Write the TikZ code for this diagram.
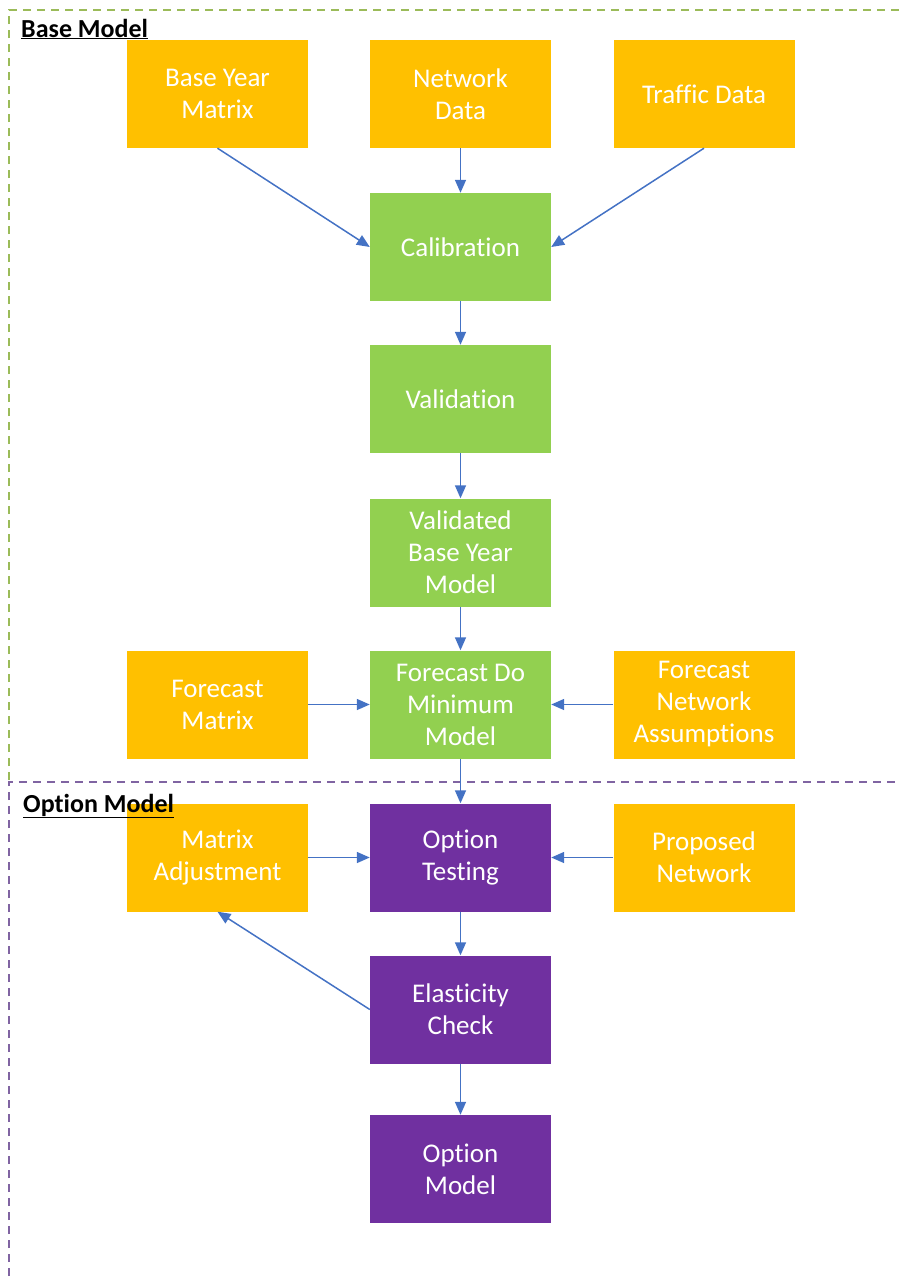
\documentclass[tikz,border=0pt]{standalone}
\usepackage{fontspec}
\setmainfont{Carlito}[Ligatures=NoCommon]
\usetikzlibrary{arrows.meta}
\definecolor{orng}{HTML}{FFC000}
\definecolor{grn}{HTML}{92D050}
\definecolor{purp}{HTML}{7030A0}
\definecolor{arrblue}{HTML}{4472C4}
\definecolor{gdash}{HTML}{9BBB59}
\definecolor{pdash}{HTML}{8064A2}
\begin{document}
\begin{tikzpicture}[x=1pt,y=-1pt,
  box/.style={minimum width=181pt,minimum height=108pt,inner sep=0pt,align=center,text=white,font=\fontsize{27}{32}\selectfont},
  ob/.style={box,fill=orng},
  gb/.style={box,fill=grn},
  pb/.style={box,fill=purp},
  arr/.style={draw=arrblue,line width=1.5pt,-{Triangle[length=13pt,width=11pt]}},
  heading/.style={anchor=base west,font=\bfseries\fontsize{26}{30}\selectfont,inner sep=0pt},
  frame/.style={line width=1.3pt,dash pattern=on 8pt off 6pt}]
\clip (0,0) rectangle (900,1278);
\draw[frame,draw=gdash] (9,780) -- (9,10) -- (905,10);
\draw[frame,draw=pdash] (9,1290) -- (9,782) -- (905,782);

\node[ob] (bym) at (217.5,94) {Base Year\\Matrix};
\node[ob] (nd) at (460.5,94) {Network\\Data};
\node[ob] (td) at (704,94) {Traffic Data};
\node[gb] (cal) at (460.5,247) {Calibration};
\node[gb] (val) at (460.5,399) {Validation};
\node[gb] (vbym) at (460.5,552.5) {Validated\\Base Year\\Model};
\node[ob] (fm) at (217.5,704.5) {Forecast\\Matrix};
\node[gb] (fdm) at (460.5,704.5) {Forecast Do\\Minimum\\Model};
\node[ob] (fna) at (704,704.5) {Forecast\\Network\\Assumptions};
\node[ob] (ma) at (217.5,857.5) {Matrix\\Adjustment};
\node[pb] (ot) at (460.5,857.5) {Option\\Testing};
\node[ob] (pn) at (704,857.5) {Proposed\\Network};
\node[pb] (ec) at (460.5,1009.5) {Elasticity\\Check};
\node[pb] (om) at (460.5,1169) {Option\\Model};

\draw[arr] (nd.south) -- (cal.north);
\draw[arr] (bym.south) -- (cal.west);
\draw[arr] (td.south) -- (cal.east);
\draw[arr] (cal.south) -- (val.north);
\draw[arr] (val.south) -- (vbym.north);
\draw[arr] (vbym.south) -- (fdm.north);
\draw[arr] (fm.east) -- (fdm.west);
\draw[arr] (fna.west) -- (fdm.east);
\draw[arr] (fdm.south) -- (ot.north);
\draw[arr] (ma.east) -- (ot.west);
\draw[arr] (pn.west) -- (ot.east);
\draw[arr] (ot.south) -- (ec.north);
\draw[arr] (ec.west) -- (ma.south);
\draw[arr] (ec.south) -- (om.north);

\node[heading] (hbase) at (21,37) {\underline{Base Model}};
\node[heading] (hopt) at (23,812) {\underline{Option Model}};
\end{tikzpicture}
\end{document}
